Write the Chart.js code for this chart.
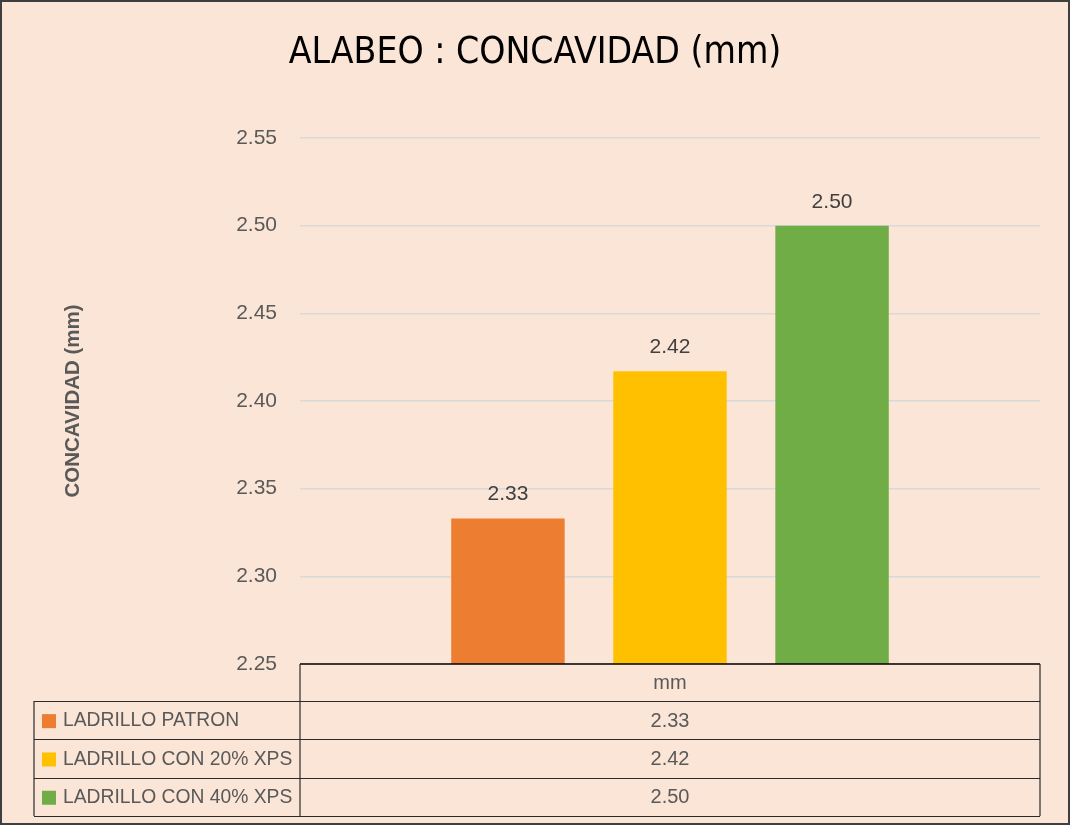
<!DOCTYPE html>
<html>
<head>
<meta charset="utf-8">
<script src="https://cdn.jsdelivr.net/npm/chart.js@4"></script>
<style>
  html, body { margin: 0; padding: 0; background: #FBE5D6; }
  canvas { display: block; }
</style>
</head>
<body>
<canvas id="c" width="1070" height="825"></canvas>
<script>
const categories = ['mm'];
const seriesNames = ['LADRILLO PATRON', 'LADRILLO CON 20% XPS', 'LADRILLO CON 40% XPS'];
const patronValues = [2.333];
const xps20Values = [2.417];
const xps40Values = [2.50];
const seriesColors = ['#ED7D31', '#FFC000', '#70AD47'];
const yTicks = [2.25, 2.30, 2.35, 2.40, 2.45, 2.50, 2.55];
const chartTitle = 'ALABEO : CONCAVIDAD (mm)';
const yTitle = 'CONCAVIDAD (mm)';

const seriesValues = [patronValues, xps20Values, xps40Values];
const FONT = "'Liberation Sans', Arial, sans-serif";

const bgPlugin = {
  id: 'bg',
  beforeDraw(chart) {
    const ctx = chart.ctx;
    ctx.save();
    ctx.fillStyle = '#FBE5D6';
    ctx.fillRect(0, 0, chart.width, chart.height);
    ctx.restore();
  },
  afterDraw(chart) {
    const ctx = chart.ctx;
    ctx.save();
    ctx.strokeStyle = '#3F3F3F';
    ctx.lineWidth = 2;
    ctx.strokeRect(1, 1, chart.width - 2, chart.height - 2);
    ctx.restore();
  }
};

const labelPlugin = {
  id: 'barLabels',
  afterDatasetsDraw(chart) {
    const ctx = chart.ctx;
    ctx.save();
    ctx.font = '21px ' + FONT;
    ctx.fillStyle = '#404040';
    ctx.textAlign = 'center';
    ctx.textBaseline = 'alphabetic';
    chart.data.datasets.forEach((ds, i) => {
      const meta = chart.getDatasetMeta(i);
      meta.data.forEach((bar, j) => {
        ctx.fillText(Number(ds.data[j]).toFixed(2), bar.x, bar.y - 18);
      });
    });
    ctx.restore();
  }
};

const tablePlugin = {
  id: 'dataTable',
  afterDraw(chart) {
    const ctx = chart.ctx;
    const area = chart.chartArea;
    const xs = chart.scales.x;
    const top = area.bottom;
    const headerH = 37;
    const rowH = 38.3;
    const leftX = 34;
    const n = chart.data.datasets.length;
    const bottom = top + headerH + rowH * n;
    ctx.save();
    ctx.strokeStyle = '#000000';
    ctx.lineWidth = 1.5;
    ctx.beginPath();
    ctx.moveTo(area.left, top);
    ctx.lineTo(area.right, top);
    ctx.stroke();
    ctx.lineWidth = 1.2;
    ctx.strokeStyle = '#2B2B2B';
    ctx.beginPath();
    ctx.moveTo(area.left, top); ctx.lineTo(area.left, bottom);
    ctx.moveTo(area.right, top); ctx.lineTo(area.right, bottom);
    ctx.moveTo(leftX, top + headerH); ctx.lineTo(leftX, bottom);
    for (let r = 0; r <= n; r++) {
      const y = Math.round(top + headerH + rowH * r) + 0.5;
      ctx.moveTo(leftX, y); ctx.lineTo(area.right, y);
    }
    ctx.stroke();
    ctx.fillStyle = '#595959';
    ctx.textBaseline = 'middle';
    ctx.textAlign = 'center';
    ctx.font = '20px ' + FONT;
    chart.data.labels.forEach((lab, j) => {
      const cx = xs.getPixelForValue(j);
      ctx.fillText(lab, cx, top + headerH / 2 + 1);
    });
    chart.data.datasets.forEach((ds, i) => {
      const yMid = top + headerH + rowH * i + rowH / 2 + 1;
      ctx.fillStyle = ds.backgroundColor;
      ctx.fillRect(leftX + 8, yMid - 7, 14, 14);
      ctx.fillStyle = '#595959';
      ctx.textAlign = 'left';
      ctx.font = '19.3px ' + FONT;
      ctx.fillText(ds.label, leftX + 29, yMid);
      ctx.textAlign = 'center';
      ctx.font = '20px ' + FONT;
      ds.data.forEach((v, j) => {
        ctx.fillText(Number(v).toFixed(2), xs.getPixelForValue(j), yMid);
      });
    });
    ctx.restore();
  }
};

const chart = new Chart(document.getElementById('c'), {
  type: 'bar',
  data: {
    labels: categories,
    datasets: seriesNames.map((name, i) => ({
      label: name,
      data: seriesValues[i],
      backgroundColor: seriesColors[i],
      borderWidth: 0,
      categoryPercentage: 0.657,
      barPercentage: 0.70
    }))
  },
  options: {
    responsive: false,
    animation: false,
    layout: { padding: { left: 30, right: 30, top: 0, bottom: 161 } },
    plugins: {
      legend: { display: false },
      tooltip: { enabled: false },
      title: {
        display: true,
        text: chartTitle,
        color: '#000000',
        font: { family: "'Liberation Sans Narrow', 'DejaVu Sans Condensed', 'Liberation Sans', sans-serif", size: 37, weight: 'normal', lineHeight: 1.2 },
        padding: { top: 31, bottom: 62.6 }
      }
    },
    scales: {
      x: {
        display: false
      },
      y: {
        min: yTicks[0],
        max: yTicks[yTicks.length - 1],
        afterFit(scale) { scale.width = 270; },
        afterBuildTicks(scale) { scale.ticks = yTicks.map(v => ({ value: v })); },
        border: { display: false },
        grid: { color: '#D9D9D9', lineWidth: 1.5, drawTicks: false },
        ticks: {
          padding: 23,
          color: '#595959',
          font: { family: FONT, size: 21 },
          callback: (v) => Number(v).toFixed(2)
        },
        title: {
          display: true,
          text: yTitle,
          color: '#595959',
          font: { family: FONT, size: 20.5, weight: 'bold', lineHeight: 1.2 },
          padding: { top: 30.7, bottom: 0 }
        }
      }
    }
  },
  plugins: [bgPlugin, labelPlugin, tablePlugin]
});
</script>
</body>
</html>
